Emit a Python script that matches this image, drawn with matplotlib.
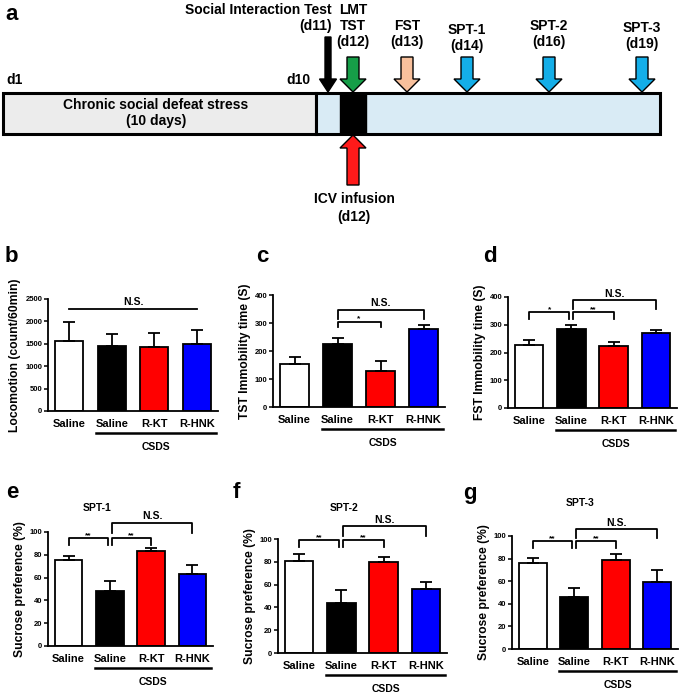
import matplotlib
matplotlib.use("Agg")
import matplotlib.pyplot as plt
import matplotlib.patches as mpatches
import matplotlib.transforms as mtrans

plt.rcParams['font.family'] = ['Liberation Sans', 'DejaVu Sans']
plt.rcParams['font.weight'] = 'bold'
plt.rcParams['axes.labelweight'] = 'bold'

W, H = 685, 694

# ---- data ----
groups = ["Saline", "Saline", "R-KT", "R-HNK"]
bar_colors = ["white", "black", "#ff0000", "#0000ff"]

loco_mean = [1570, 1460, 1430, 1500]
loco_err = [420, 260, 310, 300]
tst_mean = [153, 225, 130, 278]
tst_err = [25, 20, 35, 15]
fst_mean = [227, 285, 222, 272]
fst_err = [18, 15, 17, 10]
spt1_mean = [75.5, 48, 83, 63.5]
spt1_err = [3.5, 9, 3, 7.5]
spt2_mean = [81, 44, 79.5, 56]
spt2_err = [6, 11, 5, 6]
spt3_mean = [76, 46, 79, 59]
spt3_err = [4.5, 8, 5, 11]

# timeline (schematic)
events = ["Social Interaction Test\n(d11)", "LMT\nTST\n(d12)", "FST\n(d13)",
          "SPT-1\n(d14)", "SPT-2\n(d16)", "SPT-3\n(d19)"]
event_x = [328, 353, 407, 467, 549, 642]
event_label_y = [33, 49, 49, 53, 49, 51]
event_colors = ["black", "#169e48", "#f8c09c", "#14aee8", "#14aee8", "#14aee8"]


fig = plt.figure(figsize=(W / 100, H / 100), dpi=100)

# ---- panel a: timeline ----
ax = fig.add_axes([0, 1 - 232 / H, 1, 232 / H])
ax.set_xlim(0, W)
ax.set_ylim(232, 0)
ax.axis('off')

ax.add_patch(mpatches.Rectangle((3, 93), 313, 41, fc="#ececec", ec="black", lw=2.2))
ax.add_patch(mpatches.Rectangle((316, 93), 344, 41, fc="#d9ebf5", ec="black", lw=2.2))
ax.add_patch(mpatches.Rectangle((340, 93), 26, 41, fc="black", ec="black", lw=1))

for i, (lab, x, ly, c) in enumerate(zip(events, event_x, event_label_y, event_colors)):
    if i == 0:
        arr = mpatches.FancyArrow(x, 37, 0, 55, width=6, head_width=17, head_length=13,
                                  length_includes_head=True, fc=c, ec="black", lw=1)
        ax.add_patch(arr)
        ax.text(332, ly, lab, ha='right', va='bottom', multialignment='right', fontsize=10)
    else:
        arr = mpatches.FancyArrow(x, 57, 0, 35, width=12, head_width=26, head_length=13,
                                  length_includes_head=True, fc=c, ec="black", lw=1)
        ax.add_patch(arr)
        ax.text(x, ly, lab, ha='center', va='bottom', fontsize=10)

ax.add_patch(mpatches.FancyArrow(353, 185, 0, -50, width=12, head_width=26, head_length=13,
                                 length_includes_head=True, fc="#ff1a1a", ec="black", lw=1))
ax.text(354, 199, "ICV infusion", ha='center', va='center', fontsize=10)
ax.text(354, 217, "(d12)", ha='center', va='center', fontsize=10)
ax.text(15, 80, "d1", ha='center', va='center', fontsize=10)
ax.text(298, 80, "d10", ha='center', va='center', fontsize=10)
ax.text(156, 113, "Chronic social defeat stress\n(10 days)", ha='center', va='center',
        fontsize=10, linespacing=1.25)


def bar_panel(px, means, errs, ymax, ystep, ylabel, brackets, title=None, title_x=None,
              title_y=None):
    x0, x1, yt, yb = px
    a = fig.add_axes([x0 / W, 1 - yb / H, (x1 - x0) / W, (yb - yt) / H])
    xs = list(range(len(means)))
    a.bar(xs, means, width=0.67, color=bar_colors, edgecolor="black", linewidth=1.3,
          yerr=[[0] * len(errs), errs], error_kw=dict(ecolor="black", elinewidth=1.3,
                                                      capsize=4.5, capthick=1.3),
          zorder=2)
    a.set_xlim(-0.5, 3.5)
    a.set_ylim(0, ymax)
    a.set_yticks(range(0, ymax + 1, ystep))
    a.tick_params(axis='y', labelsize=5.5, length=3, width=1.1, pad=1)
    a.tick_params(axis='x', length=0, labelbottom=False)
    for s in ("top", "right"):
        a.spines[s].set_visible(False)
    for s in ("left", "bottom"):
        a.spines[s].set_linewidth(1.3)
    a.set_ylabel(ylabel, fontsize=8.7, labelpad=3)

    trans = a.get_xaxis_transform()
    for x, g in zip(xs, groups):
        a.text(x, 0, g, transform=mtrans.offset_copy(trans, fig=fig, y=-13, units='dots'),
               ha='center', va='center', fontsize=8)
    a.plot([0.63, 3.46], [0, 0], color="black", lw=1.8, clip_on=False,
           transform=mtrans.offset_copy(trans, fig=fig, y=-22, units='dots'))
    a.text(2.05, 0, "CSDS", transform=mtrans.offset_copy(trans, fig=fig, y=-36, units='dots'),
           ha='center', va='center', fontsize=7.5)

    for (b1, b2, y, drop, lab) in brackets:
        a.plot([b1, b1, b2, b2], [y - drop, y, y, y - drop], color="black", lw=1.3,
               clip_on=False)
        if lab == "N.S.":
            a.text((b1 + b2) / 2, y + ymax * 0.015, lab, ha='center', va='bottom', fontsize=7.5)
        else:
            a.text((b1 + b2) / 2, y - ymax * 0.01, lab, ha='center', va='bottom', fontsize=6)
    if title:
        a.text(title_x, 0, title, transform=mtrans.offset_copy(a.get_xaxis_transform(), fig=fig,
                                                               y=yb - title_y, units='dots'),
               ha='center', va='center', fontsize=7.5)
    return a


bar_panel((48, 218, 299, 411), loco_mean, loco_err, 2500, 500, "Locomotion (count/60min)",
          [(0, 3, 2280, 0, "N.S.")])
bar_panel((273, 445, 295, 407), tst_mean, tst_err, 400, 100, "TST Immobility time (S)",
          [(1, 2, 305, 18, "*"), (1, 3, 346, 30, "N.S.")])
bar_panel((508, 677, 297, 408), fst_mean, fst_err, 400, 100, "FST Immobility time (S)",
          [(0, 0.95, 346, 26, "*"), (1.05, 2, 346, 26, "**"), (1.05, 3, 388, 30, "N.S.")])
bar_panel((48, 213, 532, 646), spt1_mean, spt1_err, 100, 20, "Sucrose preference (%)",
          [(0, 0.95, 94.7, 6, "**"), (1.05, 2, 94.7, 6, "**"), (1.05, 3, 108, 8.5, "N.S.")],
          "SPT-1", 0.7, 508)
bar_panel((278, 447, 539, 653), spt2_mean, spt2_err, 100, 20, "Sucrose preference (%)",
          [(0, 0.95, 99, 6, "**"), (1.05, 2, 99, 6, "**"), (1.05, 3, 111, 8.5, "N.S.")],
          "SPT-2", 1.07, 508)
bar_panel((512, 678, 536, 649), spt3_mean, spt3_err, 100, 20, "Sucrose preference (%)",
          [(0, 0.95, 95.6, 6.5, "**"), (1.05, 2, 95.6, 6.5, "**"), (1.05, 3, 106, 8, "N.S.")],
          "SPT-3", 1.13, 503)

# panel letters
for lab, x, y in [("a", 12, 14), ("b", 11, 257), ("c", 262, 257), ("d", 490, 257),
                  ("e", 12, 493), ("f", 236, 493), ("g", 470, 493)]:
    fig.text(x / W, 1 - y / H, lab, fontsize=16, fontweight='bold', ha='center', va='center')

fig.savefig("out.png", dpi=100)
